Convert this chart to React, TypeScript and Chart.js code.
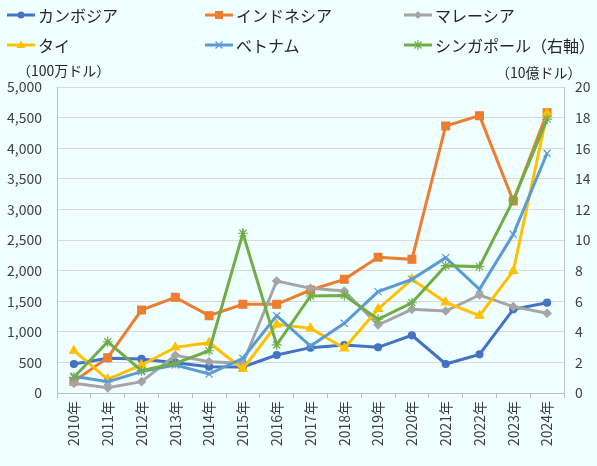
import React, { useEffect, useRef } from 'react';
import { Chart, registerables } from 'chart.js';

Chart.register(...registerables);

const years = ['2010年', '2011年', '2012年', '2013年', '2014年', '2015年', '2016年', '2017年', '2018年', '2019年', '2020年', '2021年', '2022年', '2023年', '2024年'];
const cambodia = [474, 567, 556, 495, 430, 425, 621, 741, 784, 746, 943, 474, 632, 1367, 1476];
const indonesia = [190, 577, 1356, 1563, 1264, 1449, 1449, 1683, 1857, 2217, 2184, 4363, 4532, 3137, 4580];
const malaysia = [158, 85, 185, 616, 512, 485, 1830, 1710, 1667, 1111, 1367, 1340, 1601, 1411, 1302];
const thailand = [691, 224, 458, 746, 822, 392, 1122, 1057, 730, 1373, 1857, 1482, 1264, 1994, 4570];
const vietnam = [275, 185, 349, 458, 310, 567, 1264, 768, 1139, 1656, 1857, 2211, 1694, 2593, 3917];
const singapore = [1.03, 3.35, 1.46, 1.94, 2.76, 10.44, 3.14, 6.34, 6.38, 4.82, 5.9, 8.32, 8.26, 12.6, 17.9];

const leftAxisMax = 5000;
const leftAxisStep = 500;
const rightAxisMax = 20;
const rightAxisStep = 2;
const leftUnit = '（100万ドル）';
const rightUnit = '（10億ドル）';

const FONT = "'Noto Sans CJK JP', 'Noto Sans', sans-serif";

type Series = { label: string; data: number[]; color: string; pointStyle: string; radius: number; axis: string };

const series: Series[] = [
  { label: 'カンボジア', data: cambodia, color: '#4472C4', pointStyle: 'circle', radius: 3.5, axis: 'y' },
  { label: 'インドネシア', data: indonesia, color: '#ED7D31', pointStyle: 'rect', radius: 5.5, axis: 'y' },
  { label: 'マレーシア', data: malaysia, color: '#A5A5A5', pointStyle: 'rectRot', radius: 4, axis: 'y' },
  { label: 'タイ', data: thailand, color: '#FFC000', pointStyle: 'triangle', radius: 5, axis: 'y' },
  { label: 'ベトナム', data: vietnam, color: '#5B9BD5', pointStyle: 'crossRot', radius: 5, axis: 'y' },
  { label: 'シンガポール（右軸）', data: singapore, color: '#70AD47', pointStyle: 'star', radius: 5, axis: 'y1' },
];

function LegendMarker({ s }: { s: Series }) {
  const c = s.color;
  let m: React.ReactNode = null;
  if (s.pointStyle === 'circle') m = <circle cx={14} cy={6} r={3.5} fill={c} />;
  else if (s.pointStyle === 'rect') m = <rect x={10} y={2} width={8} height={8} fill={c} />;
  else if (s.pointStyle === 'rectRot') m = <polygon points="14,2 18,6 14,10 10,6" fill={c} />;
  else if (s.pointStyle === 'triangle') m = <polygon points="14,1.5 18.5,9 9.5,9" fill={c} />;
  else if (s.pointStyle === 'crossRot') m = <path d="M10.5,2.5 L17.5,9.5 M17.5,2.5 L10.5,9.5" stroke={c} strokeWidth={1.2} />;
  else if (s.pointStyle === 'star') m = <path d="M10.5,2.5 L17.5,9.5 M17.5,2.5 L10.5,9.5 M14,1 L14,11" stroke={c} strokeWidth={1.2} />;
  return (
    <svg width={28} height={12} style={{ display: 'block' }}>
      <line x1={0} y1={6} x2={28} y2={6} stroke={c} strokeWidth={3} />
      {m}
    </svg>
  );
}

export default function App() {
  const ref = useRef<HTMLCanvasElement>(null);

  useEffect(() => {
    if (!ref.current) return;
    const n = series.length;
    const chart = new Chart(ref.current, {
      type: 'line',
      data: {
        labels: years,
        datasets: series.map((s, i) => ({
          label: s.label,
          data: s.data,
          yAxisID: s.axis,
          borderColor: s.color,
          backgroundColor: s.color,
          borderWidth: 3,
          pointStyle: s.pointStyle as any,
          pointRadius: s.radius,
          pointBackgroundColor: s.color,
          pointBorderColor: s.color,
          pointBorderWidth: 1.2,
          tension: 0,
          order: n - i,
        })),
      },
      options: {
        responsive: false,
        animation: false,
        maintainAspectRatio: false,
        layout: { padding: { top: 87, left: 0, right: 0, bottom: 0 } },
        plugins: { legend: { display: false }, tooltip: { enabled: false }, title: { display: false } },
        scales: {
          x: {
            offset: true,
            grid: { drawOnChartArea: false, drawTicks: true, tickLength: 5, offset: true, color: '#BFBFBF' },
            border: { display: true, color: '#BFBFBF' },
            ticks: {
              minRotation: 90,
              maxRotation: 90,
              padding: 3,
              color: '#404040',
              font: { family: FONT, size: 14 },
            },
            afterFit: (s: any) => { s.height = 73; },
          },
          y: {
            position: 'left',
            min: 0,
            max: leftAxisMax,
            ticks: {
              stepSize: leftAxisStep,
              padding: 15,
              color: '#404040',
              font: { family: FONT, size: 14 },
              callback: (v: any) => Number(v).toLocaleString('en-US'),
            },
            grid: { color: '#D9D9D9', drawTicks: false },
            border: { display: true, color: '#BFBFBF' },
            afterFit: (s: any) => { s.width = 57; },
          },
          y1: {
            position: 'right',
            min: 0,
            max: rightAxisMax,
            ticks: {
              stepSize: rightAxisStep,
              padding: 11,
              color: '#404040',
              font: { family: FONT, size: 14 },
            },
            grid: { drawOnChartArea: false, drawTicks: false },
            border: { display: true, color: '#BFBFBF' },
            afterFit: (s: any) => { s.width = 33; },
          },
        },
      },
    });
    return () => chart.destroy();
  }, []);

  const colX = [7, 205, 404];
  const rowY = [15, 45];

  return (
    <div style={{ position: 'fixed', left: 0, top: 0, width: 597, height: 466, background: '#F0FFFF', overflow: 'hidden', fontFamily: FONT }}>
      <canvas ref={ref} width={597} height={466} style={{ position: 'absolute', left: 0, top: 0, width: 597, height: 466 }} />
      {series.map((s, i) => (
        <div key={s.label} style={{ position: 'absolute', left: colX[i % 3], top: rowY[Math.floor(i / 3)] - 11, height: 22, display: 'flex', alignItems: 'center', whiteSpace: 'nowrap' }}>
          <LegendMarker s={s} />
          <span style={{ marginLeft: 3, fontSize: 16, color: '#262626', lineHeight: '22px' }}>{s.label}</span>
        </div>
      ))}
      <div style={{ position: 'absolute', left: 17, top: 60, fontSize: 14, color: '#262626', lineHeight: '20px', whiteSpace: 'nowrap' }}>{leftUnit}</div>
      <div style={{ position: 'absolute', left: 496, top: 62, fontSize: 14, color: '#262626', lineHeight: '20px', whiteSpace: 'nowrap' }}>{rightUnit}</div>
    </div>
  );
}
